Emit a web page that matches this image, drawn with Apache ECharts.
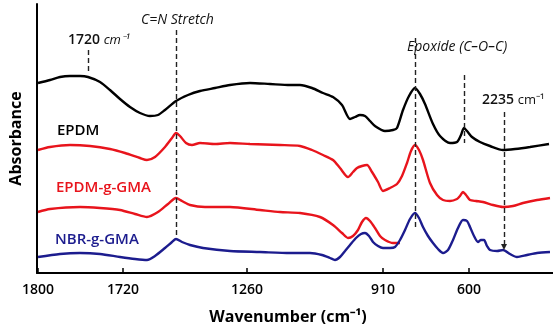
<!DOCTYPE html>
<html>
<head>
    <meta charset="utf-8">
    <title>FTIR</title>
    <script src="https://cdn.jsdelivr.net/npm/echarts@6/dist/echarts.min.js"></script>
    <style>
        html, body { margin: 0; padding: 0; background: #fff; }
        #chart { width: 553px; height: 329px; }
    </style>
</head>
<body>
<div id="chart"></div>
<script>
    // positions along the (non-linear) wavenumber axis, and stacked/offset absorbance
    var tickPos = [38, 123, 247, 383, 469]
    var tickLabels = ['1800', '1720', '1260', '910', '600']

    var epdm = [[38,190],[50,193],[60,196],[70,197],[80,197],[88,196],[100,191],[110,183],[120,174],[130,166],[140,160],[150,157],[158,158],[165,163],[176,172],[188,178],[200,182],[215,185],[230,188],[250,190],[270,189],[290,188],[300,188],[312,185],[323,180],[333,176],[342,168],[350,154],[355,156],[360,158],[365,157],[370,152],[375,147],[385,142],[393,143],[397,145],[403,163],[409,177],[415,185],[420,179],[425,169],[433,149],[440,137],[450,130],[457,131],[461,138],[464,145],[467,142],[472,136],[480,131],[490,127],[503,123],[515,124],[530,126],[549,129]]

    var epdmRed = [[38,123],[50,126],[70,128],[90,127],[110,124],[125,120],[140,115],[147,113],[155,116],[165,126],[172,135],[176,140],[180,137],[186,130],[192,128],[200,130],[215,129],[230,130],[250,129],[280,128],[300,127],[312,123],[323,118],[333,113],[340,105],[348,96],[353,101],[357,105],[362,107],[367,108],[372,101],[378,91],[383,82],[390,85],[397,89],[402,97],[407,110],[411,122],[415,128],[419,123],[423,113],[430,90],[437,78],[443,73],[450,72],[457,74],[460,77],[463,81],[466,78],[470,73],[476,72],[483,71],[493,68],[503,66],[513,67],[523,70],[537,73],[550,75]]

    var epdmGma = [[38,61],[50,64],[80,66],[100,65],[120,63],[135,59],[147,56],[158,61],[168,69],[176,75],[182,72],[190,68],[205,66],[230,66],[260,63],[280,61],[300,60],[320,56],[333,48],[342,40],[348,35],[353,37],[358,43],[362,51],[366,55],[370,52],[375,45],[380,37],[385,33],[393,30],[400,30]]

    var nbrGma = [[38,16],[60,19],[80,20],[100,19],[120,16],[135,14],[147,13],[155,17],[165,25],[172,31],[176,34],[182,31],[190,28],[203,25],[230,22],[260,21],[290,20],[310,20],[322,18],[330,15],[335,13],[340,16],[345,22],[350,28],[356,35],[361,39],[365,40],[369,37],[373,31],[378,27],[383,25],[390,25],[395,26],[400,33],[405,43],[410,54],[415,60],[419,55],[423,46],[428,37],[433,30],[438,24],[443,20],[448,23],[453,33],[458,45],[463,53],[467,52],[470,46],[474,37],[478,31],[481,33],[484,33],[487,27],[490,23],[497,22],[503,23],[510,19],[517,16],[527,18],[537,20],[550,21]]

    // dashed marker lines: [x, yFrom, yTo]
    var markers = [[88, 223, 200], [176, 243, 35], [415, 235, 45], [464, 198, 130], [504, 161, 26]]

    var myChart = echarts.init(document.getElementById('chart'))

    var lineData = []
    for (var i = 0; i < markers.length; i++) {
        var m = markers[i]
        var seg = [{coord: [m[0], m[1]]}, {coord: [m[0], m[2]]}]
        if (i == markers.length - 1) {
            seg[1].symbol = 'triangle'
            seg[1].symbolSize = 6
            seg[1].symbolRotate = 180
        }
        lineData.push(seg)
    }

    var font = 'Open Sans'

    function curve(name, data, color, extra) {
        var s = {
            name: name,
            type: 'line',
            data: data,
            showSymbol: false,
            smooth: 0.25,
            lineStyle: {color: color, width: 2.4},
            z: 3
        }
        if (extra) s.markLine = extra
        return s
    }

    myChart.setOption({
        animation: false,
        grid: {left: 37, right: 0, top: 4, bottom: 56, outerBoundsMode: 'none'},
        xAxis: {
            type: 'value',
            min: 37,
            max: 553,
            splitLine: {show: false},
            axisLine: {lineStyle: {color: '#000', width: 2}},
            axisTick: {show: true, inside: true, length: 5, customValues: tickPos, lineStyle: {color: '#000', width: 1.5}},
            axisLabel: {
                customValues: tickPos,
                margin: 10,
                fontFamily: font,
                fontSize: 14,
                fontWeight: 600,
                color: '#000',
                formatter: function (v) {
                    var k = tickPos.indexOf(v)
                    return k >= 0 ? tickLabels[k] : ''
                }
            },
            name: 'Wavenumber (cm⁻¹)',
            nameLocation: 'middle',
            nameGap: 36,
            nameTextStyle: {fontFamily: font, fontSize: 16, fontWeight: 'bold', color: '#000', padding: [0, 14, 0, 0]}
        },
        yAxis: {
            type: 'value',
            min: 0,
            max: 269,
            splitLine: {show: false},
            axisLine: {show: true, lineStyle: {color: '#000', width: 2}},
            axisTick: {show: false},
            axisLabel: {show: false},
            name: 'Absorbance',
            nameLocation: 'middle',
            nameGap: 13,
            nameTextStyle: {fontFamily: font, fontSize: 16, fontWeight: 'bold', color: '#000'}
        },
        series: [
            curve('EPDM', epdm, '#000000', {
                silent: true,
                symbol: ['none', 'none'],
                label: {show: false},
                lineStyle: {color: '#222', type: [5, 3], width: 1.4},
                data: lineData
            }),
            curve('EPDM-red', epdmRed, '#e8141c'),
            curve('EPDM-g-GMA', epdmGma, '#e8141c'),
            curve('NBR-g-GMA', nbrGma, '#1c1c8e')
        ],
        graphic: [
            {type: 'text', left: 68, top: 33, style: {
                text: '{b|1720 }{i|cm⁻¹}', rich: {
                    b: {fontFamily: font, fontSize: 14, fontWeight: 600, fill: '#111'},
                    i: {fontFamily: font, fontSize: 13, fontStyle: 'italic', fill: '#111'}
                }}},
            {type: 'text', left: 141, top: 13, style: {text: 'C=N Stretch', fontFamily: font, fontSize: 14, fontStyle: 'italic', fill: '#111'}},
            {type: 'text', left: 407, top: 40, style: {text: 'Epoxide (C–O–C)', fontFamily: font, fontSize: 14, fontStyle: 'italic', fill: '#111'}},
            {type: 'text', left: 482, top: 93, style: {
                text: '{b|2235 }{n|cm⁻¹}', rich: {
                    b: {fontFamily: font, fontSize: 14, fontWeight: 600, fill: '#111'},
                    n: {fontFamily: font, fontSize: 13, fill: '#111'}
                }}},
            {type: 'text', left: 57, top: 123, style: {text: 'EPDM', fontFamily: font, fontSize: 15, fontWeight: 600, fill: '#000'}},
            {type: 'text', left: 56, top: 180, style: {text: 'EPDM-g-GMA', fontFamily: font, fontSize: 15, fontWeight: 600, fill: '#e8141c'}},
            {type: 'text', left: 55, top: 232, style: {text: 'NBR-g-GMA', fontFamily: font, fontSize: 15, fontWeight: 600, fill: '#1c1c8e'}}
        ]
    })
</script>
</body>
</html>
